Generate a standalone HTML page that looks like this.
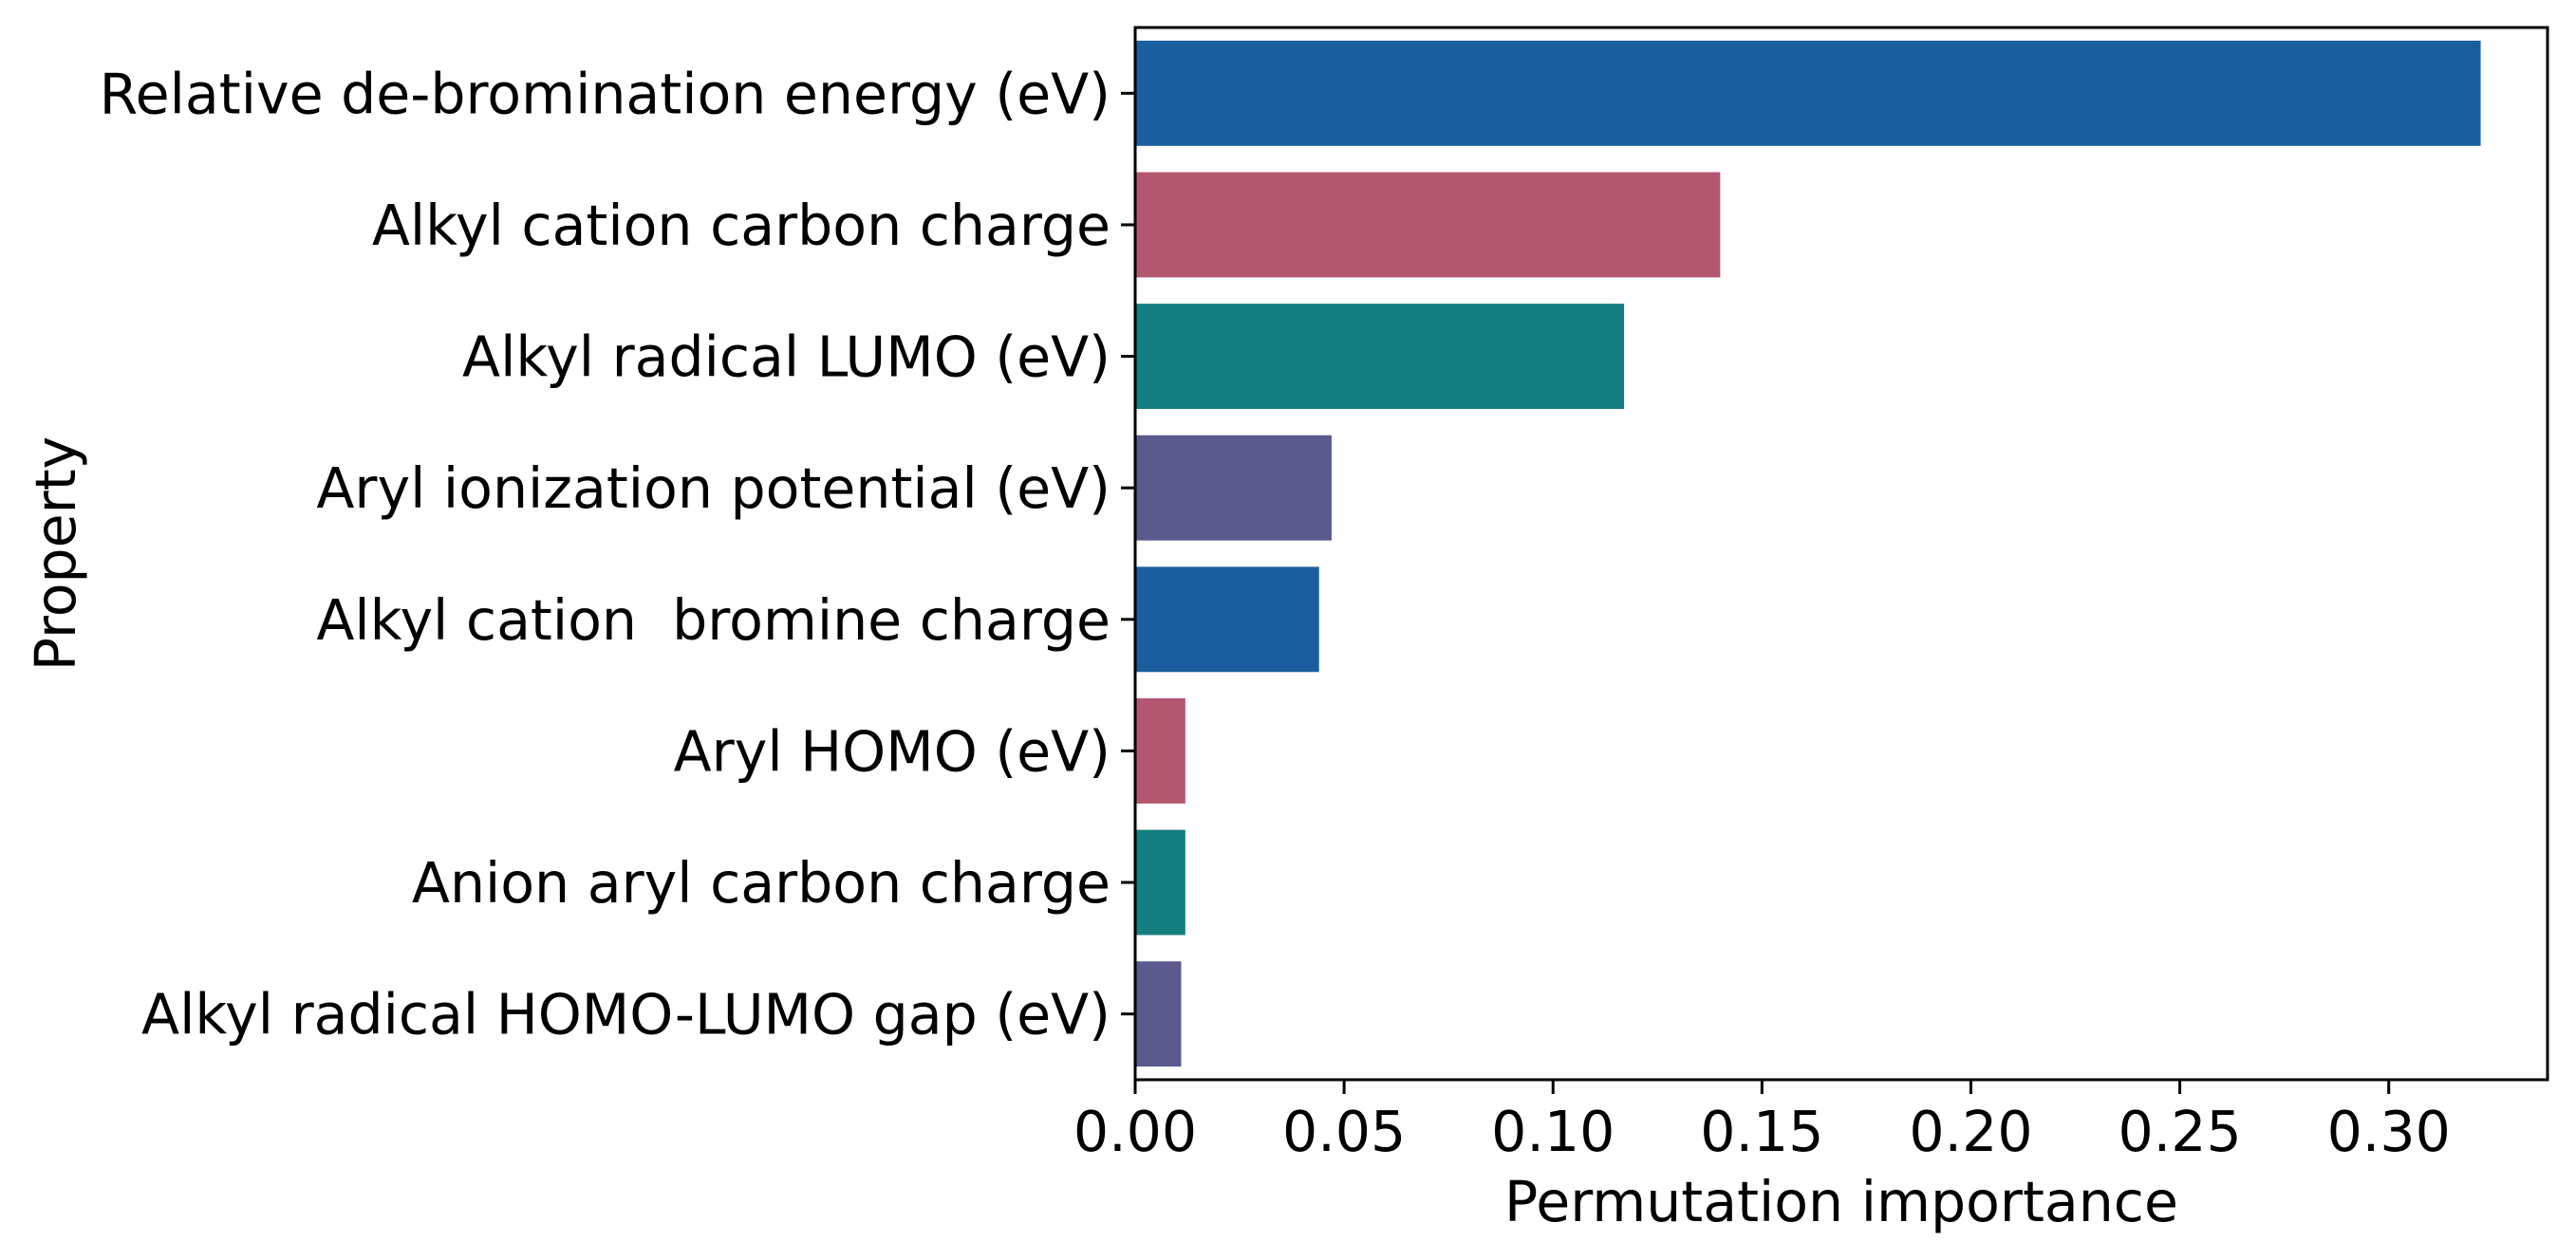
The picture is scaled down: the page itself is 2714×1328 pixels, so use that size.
<!DOCTYPE html>
<html><head><meta charset="utf-8"><style>
html,body{margin:0;padding:0;background:#fff;}
svg{display:block;}
text{font-family:"DejaVu Sans","Liberation Sans",sans-serif;fill:#000;white-space:pre;}
</style></head><body>
<svg id="chart" width="2714" height="1328" viewBox="0 0 2714 1328" xmlns="http://www.w3.org/2000/svg">
<g id="bars"></g>
<g id="axes"></g>
</svg>
<script>
const categories = ["Relative de-bromination energy (eV)","Alkyl cation carbon charge","Alkyl radical LUMO (eV)","Aryl ionization potential (eV)","Alkyl cation  bromine charge","Aryl HOMO (eV)","Anion aryl carbon charge","Alkyl radical HOMO-LUMO gap (eV)"];
const values = [0.322, 0.140, 0.117, 0.047, 0.044, 0.012, 0.012, 0.011];
const barColors = ["#1a5e9f","#b35670","#157e80","#5a5a8f"];
const xTicks = [0, 0.05, 0.10, 0.15, 0.20, 0.25, 0.30];
const xTickLabels = ["0.00","0.05","0.10","0.15","0.20","0.25","0.30"];

const L=1196, R=2684, T=29, B=1138, XMAX=0.338;
const NS="http://www.w3.org/2000/svg";
const xs=v=>L+(v/XMAX)*(R-L);
const band=(B-T)/categories.length;
const yc=i=>T+band*(i+0.5);
const bh=band*0.8;
const gB=document.getElementById('bars'), gA=document.getElementById('axes');
function mk(tag,attrs,parent){const e=document.createElementNS(NS,tag);for(const k in attrs)e.setAttribute(k,attrs[k]);parent.appendChild(e);return e;}

values.forEach((v,i)=>{
  const r=mk('rect',{x:L,y:yc(i)-bh/2,width:xs(v)-L,height:bh,fill:barColors[i%4]},gB);
  
  
  const t=mk('line',{x1:L-15,x2:L,y1:yc(i),y2:yc(i),stroke:'#000','stroke-width':3},gA);
  
  
  const lb=mk('text',{x:L-26,y:yc(i)+21,'text-anchor':'end','font-size':58.5},gA);
  lb.setAttributeNS('http://www.w3.org/XML/1998/namespace','xml:space','preserve');
  lb.textContent=categories[i];
  
  
});
xTicks.forEach((v,i)=>{
  const t=mk('line',{x1:xs(v),x2:xs(v),y1:B,y2:B+15,stroke:'#000','stroke-width':3},gA);
  
  
  const lb=mk('text',{x:xs(v),y:B+75,'text-anchor':'middle','font-size':58.5},gA);
  lb.textContent=xTickLabels[i];
  
  
});
const fr=mk('rect',{x:L,y:T,width:R-L,height:B-T,fill:'none',stroke:'#000','stroke-width':3},gA);


const xl=mk('text',{x:(L+R)/2,y:1287,'text-anchor':'middle','font-size':58.5},gA);
xl.textContent='Permutation importance';


const yl=mk('text',{x:0,y:0,'text-anchor':'middle','font-size':58.5,transform:'translate(79,'+((T+B)/2)+') rotate(-90)'},gA);
yl.textContent='Property';


</script>
</body></html>
